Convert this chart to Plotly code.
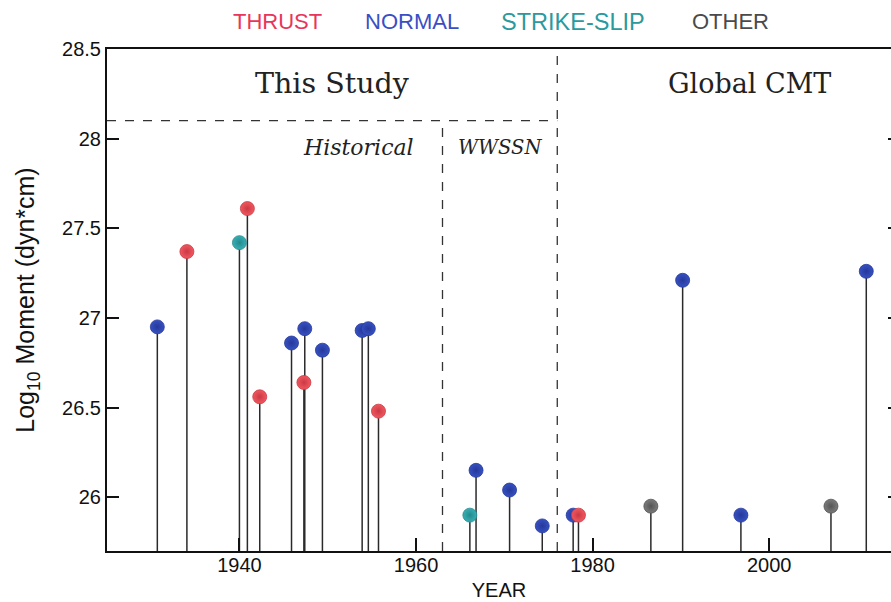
import plotly.graph_objects as go

# ---- data ----
categories = ["THRUST", "NORMAL", "STRIKE-SLIP", "OTHER"]
marker_colors = ["#f2575f", "#3651c2", "#38afb3", "#7c7c7c"]
edge_colors = ["#c93a44", "#26389a", "#238a8e", "#555555"]
label_colors = ["#e8365a", "#3a4ec4", "#2a9a9e", "#4a4a4a"]

thrust_year = [1934.05, 1940.9, 1942.3, 1947.3, 1955.75, 1978.4]
thrust_m0 = [27.37, 27.61, 26.56, 26.64, 26.48, 25.90]

normal_year = [1930.7, 1945.9, 1947.4, 1949.4, 1953.9, 1954.6, 1966.8, 1970.6,
               1974.3, 1977.8, 1990.2, 1996.8, 2011.0]
normal_m0 = [26.95, 26.86, 26.94, 26.82, 26.93, 26.94, 26.15, 26.04,
             25.84, 25.90, 27.21, 25.90, 27.26]

strike_year = [1940.0, 1966.1]
strike_m0 = [27.42, 25.90]

other_year = [1986.6, 2007.0]
other_m0 = [25.95, 25.95]

x_ticks = [1940, 1960, 1980, 2000]
y_ticks = [26, 26.5, 27, 27.5, 28, 28.5]
y_ticklabels = ["26", "26.5", "27", "27.5", "28", "28.5"]

x_range = [1925, 2013.8]
y_range = [25.7, 28.5]

wwssn_start = 1963
cmt_start = 1976
this_study_top = 28.1

# draw order: normal first, thrust on top
series = [
    ("NORMAL", normal_year, normal_m0),
    ("STRIKE-SLIP", strike_year, strike_m0),
    ("OTHER", other_year, other_m0),
    ("THRUST", thrust_year, thrust_m0),
]

fig = go.Figure()

# stems
sx, sy = [], []
for _, yrs, vals in series:
    for yr, v in zip(yrs, vals):
        sx += [yr, yr, None]
        sy += [y_range[0], v, None]
fig.add_trace(go.Scatter(x=sx, y=sy, mode="lines",
                         line=dict(color="#2a2a2a", width=1.5),
                         hoverinfo="skip", showlegend=False))

for name, yrs, vals in series:
    i = categories.index(name)
    fig.add_trace(go.Scatter(
        x=yrs, y=vals, mode="markers", name=name, showlegend=False,
        marker=dict(size=14, color=marker_colors[i],
                    gradient=dict(type="radial", color=edge_colors[i]),
                    line=dict(color=edge_colors[i], width=0.8))))

# dummy trace for right-side ticks
fig.add_trace(go.Scatter(x=[None], y=[None], yaxis="y2", showlegend=False,
                         hoverinfo="skip"))

# dashed region lines
dash = dict(color="#333333", width=1.3, dash="dash")
fig.add_shape(type="line", x0=x_range[0], x1=cmt_start, y0=this_study_top,
              y1=this_study_top, xref="x", yref="y", line=dash)
fig.add_shape(type="line", x0=wwssn_start, x1=wwssn_start, y0=y_range[0],
              y1=this_study_top, xref="x", yref="y", line=dash)
fig.add_shape(type="line", x0=cmt_start, x1=cmt_start, y0=y_range[0],
              y1=y_range[1], xref="x", yref="y", line=dash)

serif = "DejaVu Serif"
fig.add_annotation(x=1950.5, y=28.31, text="This Study", showarrow=False,
                   font=dict(family=serif, size=28.5, color="#222222"))
fig.add_annotation(x=1997.8, y=28.31, text="Global CMT", showarrow=False,
                   font=dict(family=serif, size=27, color="#222222"))
fig.add_annotation(x=1960.0, y=27.95, text="<i>Historical</i>", showarrow=False,
                   xanchor="right",
                   font=dict(family=serif, size=22, color="#222222"))
fig.add_annotation(x=(wwssn_start + cmt_start) / 2, y=27.95, text="<i>WWSSN</i>",
                   showarrow=False,
                   font=dict(family=serif, size=19.5, color="#222222"))

# colored legend text
legend_x = [0.218, 0.389, 0.594, 0.795]
legend_size = [22, 22, 23.5, 22]
for i, cat in enumerate(categories):
    fig.add_annotation(x=legend_x[i], y=1.054, xref="paper", yref="paper",
                       xanchor="center", yanchor="middle",
                       text=cat, showarrow=False,
                       font=dict(family="Liberation Sans", size=legend_size[i],
                                 color=label_colors[i]))

axis_font = dict(family="Liberation Sans", size=20, color="#111111")
title_font = dict(family="Liberation Sans", size=25, color="#111111")
fig.update_layout(
    width=891, height=602,
    margin=dict(l=107, r=0, t=49, b=51),
    paper_bgcolor="white", plot_bgcolor="white",
    showlegend=False,
    xaxis=dict(range=x_range, tickvals=x_ticks, ticks="inside", ticklen=13,
               tickwidth=1.5, tickcolor="#111111", showline=True,
               linecolor="#111111", linewidth=2, mirror=True, showgrid=False,
               zeroline=False, tickfont=axis_font, ticklabelstandoff=-5,
               title=dict(text="YEAR", font=axis_font, standoff=8)),
    yaxis=dict(range=y_range, tickvals=y_ticks, ticktext=y_ticklabels,
               ticks="inside", ticklen=12, tickwidth=1.5, tickcolor="#111111",
               showline=True, linecolor="#111111", linewidth=2, mirror=False,
               showgrid=False, zeroline=False, tickfont=axis_font,
               title=dict(text="Log<sub>10</sub> Moment (dyn*cm)",
                          font=title_font, standoff=20)),
    yaxis2=dict(range=y_range, tickvals=y_ticks, overlaying="y", side="right",
                anchor="x", ticks="inside", ticklen=3, tickwidth=1.5,
                tickcolor="#111111", showticklabels=False, showgrid=False,
                zeroline=False, showline=False),
)

fig.write_html("out.html")
